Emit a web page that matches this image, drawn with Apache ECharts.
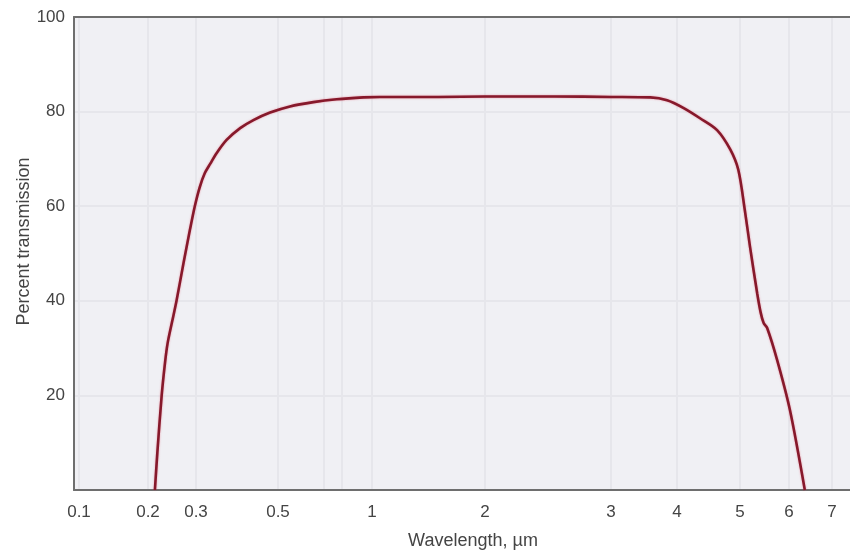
<!DOCTYPE html>
<html>
<head>
<meta charset="utf-8">
<script src="https://cdn.jsdelivr.net/npm/echarts@6/dist/echarts.min.js"></script>
<style>
  html, body { margin: 0; background: #fff; }
  #chart { width: 850px; height: 550px; }
</style>
</head>
<body>
<div id="chart"></div>
<script>
// transmission curve
const wavelength = [0.212, 0.2165, 0.2245, 0.231, 0.236, 0.245, 0.2545, 0.27, 0.285, 0.297,
  0.307, 0.317, 0.328, 0.341, 0.363, 0.395, 0.429, 0.476, 0.546, 0.649, 0.771, 0.938, 1.05,
  1.5, 2, 2.5, 3, 3.56, 3.83, 4.09, 4.34, 4.61, 4.83, 4.97, 5.09, 5.19, 5.33, 5.4, 5.46,
  5.53, 5.74, 6.02, 6.35]
const transmission = [0, 8, 20, 27, 31, 35.5, 40, 48, 55, 60,
  64, 67, 69, 71.2, 74, 76.5, 78.2, 79.8, 81.1, 82, 82.6, 83, 83.1,
  83.1, 83.2, 83.2, 83.1, 83, 82.4, 80.8, 78.6, 76.1, 72, 67.7, 59.2, 51.4, 41.6, 37.5, 35.3,
  34.3, 27.5, 16.9, 0]

// axis ticks
const xTicks = [0.1, 0.2, 0.3, 0.5, 1, 2, 3, 4, 5, 6, 7]
const xMinorGrid = [0.7, 0.8]
const yTicks = [20, 40, 60, 80, 100]

// the wavelength axis in the source is stretched piecewise (not a clean log),
// so each tick gets its own spot on the axis and we go log between them
const scaleAt = [5, 74, 122, 204, 298, 411, 537, 603, 666, 715, 758]
const axisMax = 780

function toAxis(w) {
  let i = 0
  while (i < xTicks.length - 2 && w > xTicks[i + 1]) i++
  const a = xTicks[i], b = xTicks[i + 1]
  const t = Math.log(w / a) / Math.log(b / a)
  return scaleAt[i] + t * (scaleAt[i + 1] - scaleAt[i])
}

const labelFor = {}
xTicks.forEach(w => { labelFor[toAxis(w).toFixed(2)] = String(w) })

const textColor = '#444'
const gridColor = '#e6e6eb'
const frameColor = '#6e6e6e'
const font = 'Liberation Sans'

const chart = echarts.init(document.getElementById('chart'))
chart.setOption({
  animation: false,
  grid: {
    left: 74, right: -4, top: 17, bottom: 60,
    outerBoundsMode: 'none',
    show: true,
    backgroundColor: '#f0f0f4',
    borderWidth: 0
  },
  xAxis: [{
    type: 'value',
    min: 0,
    max: axisMax,
    name: 'Wavelength, µm',
    nameLocation: 'middle',
    nameGap: 42,
    nameTextStyle: { color: textColor, fontSize: 18, fontFamily: font, padding: [0, 0, 0, 18] },
    axisLine: { show: true, onZero: false, lineStyle: { color: frameColor, width: 2 } },
    axisTick: { show: false, customValues: xTicks.concat(xMinorGrid).map(toAxis) },
    axisLabel: {
      customValues: xTicks.map(toAxis),
      formatter: v => labelFor[v.toFixed(2)] || '',
      color: textColor, fontSize: 17, margin: 14, fontFamily: font
    },
    splitLine: { show: true, lineStyle: { color: gridColor, width: 2 } }
  }, {
    // top edge of the frame
    type: 'value',
    position: 'top',
    min: 0,
    max: axisMax,
    axisLine: { show: true, onZero: false, lineStyle: { color: frameColor, width: 2 } },
    axisTick: { show: false },
    axisLabel: { show: false },
    splitLine: { show: false }
  }],
  yAxis: {
    type: 'value',
    min: 0,
    max: 100,
    interval: 20,
    name: 'Percent transmission',
    nameLocation: 'middle',
    nameGap: 41,
    nameMoveOverlap: false,
    nameTextStyle: { color: textColor, fontSize: 18, fontFamily: font, padding: [0, 0, 0, 24] },
    axisLine: { show: true, onZero: false, lineStyle: { color: frameColor, width: 2 } },
    axisTick: { show: false },
    axisLabel: {
      formatter: v => (yTicks.includes(v) ? String(v) : ''),
      color: textColor, fontSize: 17, margin: 9, fontFamily: font
    },
    splitLine: { show: true, lineStyle: { color: gridColor, width: 2 } }
  },
  series: [{
    type: 'line',
    data: wavelength.map((w, i) => [toAxis(w), transmission[i]]),
    showSymbol: false,
    smooth: 0.3,
    lineStyle: {
      color: '#86192b',
      width: 2.6,
      shadowColor: 'rgba(225, 70, 95, 0.55)',
      shadowBlur: 2
    }
  }]
})
</script>
</body>
</html>
